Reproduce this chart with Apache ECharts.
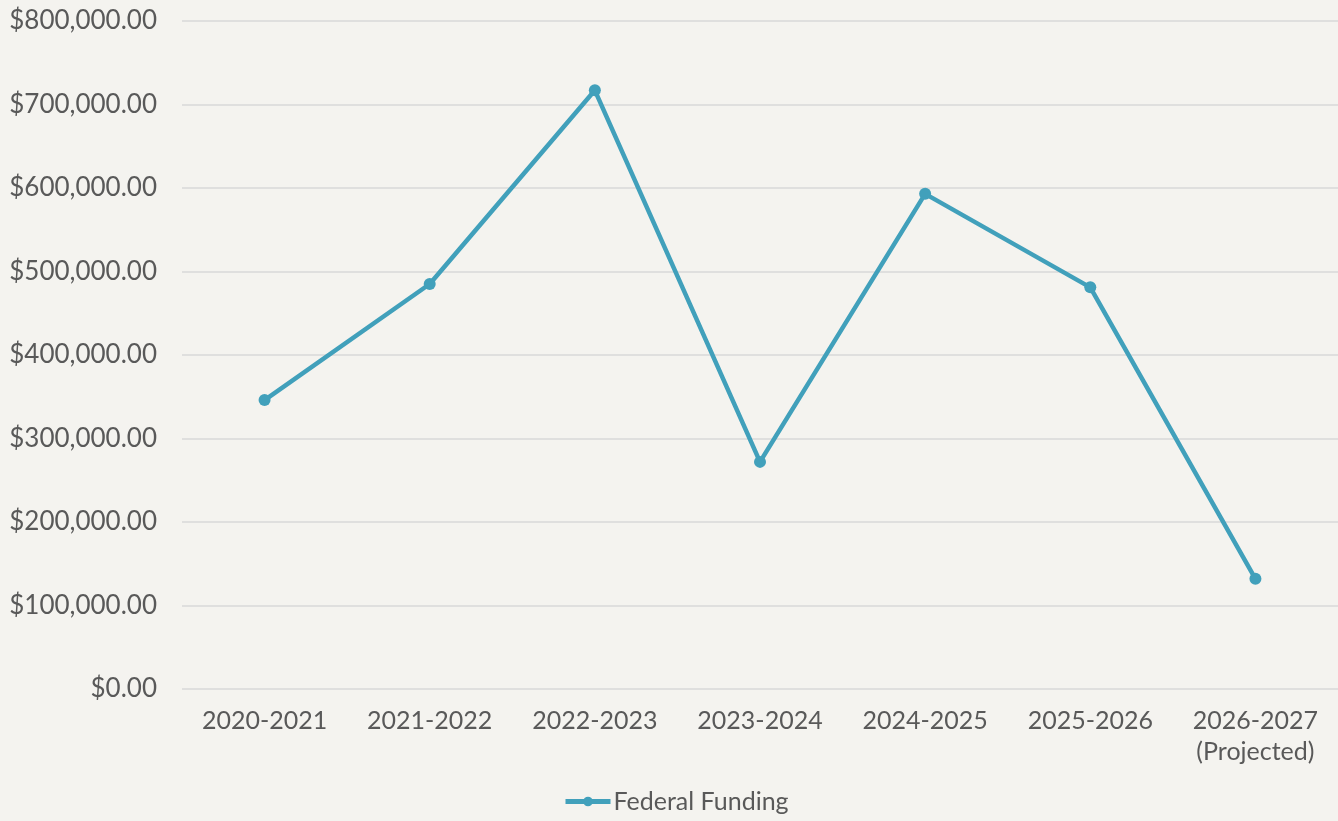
<!DOCTYPE html>
<html><head><meta charset="utf-8">
<script src="https://cdn.jsdelivr.net/npm/echarts@6/dist/echarts.min.js"></script>
<style>html,body{margin:0;padding:0;background:#f4f3ef;}#c{width:1338px;height:821px;}</style>
</head><body><div id="c"></div>
<script>
const categories = ['2020-2021','2021-2022','2022-2023','2023-2024','2024-2025','2025-2026','2026-2027\n(Projected)'];
const federalFunding = [346000, 485000, 717000, 272000, 593000, 481000, 132000];
const seriesName = 'Federal Funding';

const chart = echarts.init(document.getElementById('c'));
const font = 'Lato, "Noto Sans", sans-serif';
chart.setOption({
  backgroundColor: '#f4f3ef',
  animation: false,
  grid: {left: 182, right: 0, top: 21, bottom: 132, containLabel: false},
  legend: {
    data: [seriesName], left: 558, top: 784, itemWidth: 45, itemHeight: 12, itemGap: 4,
    lineStyle: {width: 5},
    textStyle: {fontFamily: font, fontSize: 25, color: '#595959', padding: [0, 0, 0, -2]}
  },
  xAxis: {
    type: 'category', data: categories, boundaryGap: true,
    axisLine: {show: false}, axisTick: {show: false},
    axisLabel: {fontFamily: font, fontSize: 25, color: '#595959', margin: 16, lineHeight: 31}
  },
  yAxis: {
    type: 'value', min: 0, max: 800000, interval: 100000,
    axisLine: {show: false}, axisTick: {show: false},
    splitLine: {lineStyle: {color: '#d9d9d9', width: 1.5}},
    axisLabel: {fontFamily: font, fontSize: 26, color: '#595959', margin: 25,
      formatter: v => '$' + v.toLocaleString('en-US', {minimumFractionDigits: 2, maximumFractionDigits: 2})}
  },
  series: [{
    name: seriesName, type: 'line', data: federalFunding,
    symbol: 'circle', symbolSize: 12,
    lineStyle: {color: '#41a0bb', width: 4.5},
    itemStyle: {color: '#41a0bb'}
  }]
});
</script></body></html>
